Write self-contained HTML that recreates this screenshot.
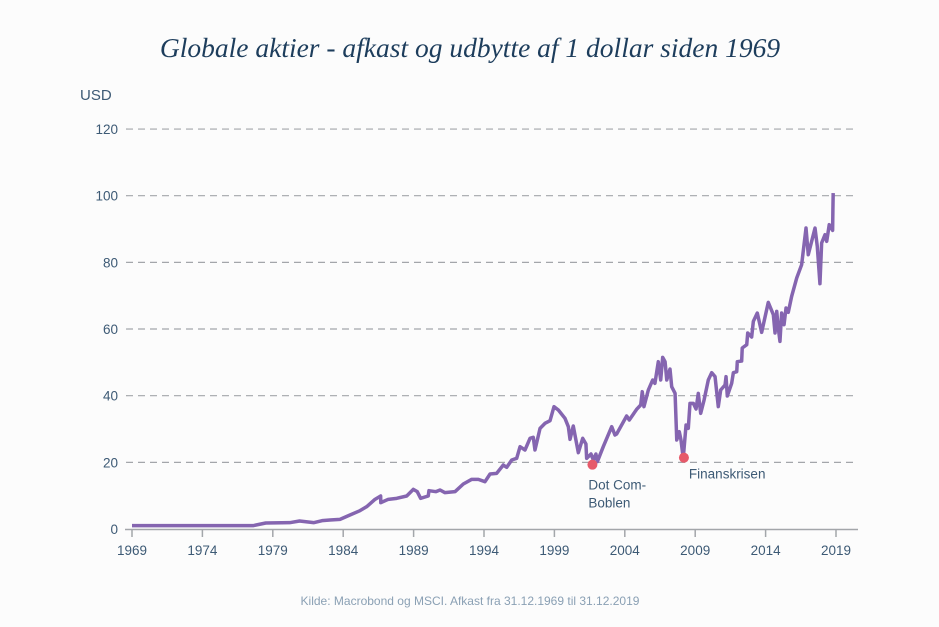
<!DOCTYPE html>
<html><head><meta charset="utf-8"><style>
body{margin:0;background:#fcfcfc;}
svg{display:block;font-family:"Liberation Sans",sans-serif;}
</style></head><body>
<svg id="c" width="939" height="627">
<rect width="939" height="627" fill="#fcfcfc"/>
<text x="470" y="57" text-anchor="middle" font-family="Liberation Serif,serif" font-style="italic" font-size="27.5" fill="#1d3d5c">Globale aktier - afkast og udbytte af 1 dollar siden 1969</text>
<text x="80" y="100" font-size="15" fill="#3d5a75">USD</text>
<text x="470" y="605" text-anchor="middle" font-size="12" fill="#8aa0b4">Kilde: Macrobond og MSCI. Afkast fra 31.12.1969 til 31.12.2019</text>
<g id="grid"></g><g id="xaxis"></g><g id="series"></g><g id="ann"></g>
</svg>
<script>
const years=[1969,1977.6,1978.5,1980.2,1980.9,1981.9,1982.5,1983.06,1983.77,1984.48,1985.19,1985.67,1986.26,1986.66,1986.67,1987.2,1987.8,1988.51,1988.98,1989.26,1989.5,1990.04,1990.09,1990.59,1990.88,1991.23,1991.94,1992.53,1993.13,1993.6,1994.07,1994.43,1994.9,1995.37,1995.61,1995.97,1996.32,1996.56,1996.91,1997.27,1997.5,1997.62,1997.98,1998.33,1998.69,1998.97,1999.28,1999.75,1999.99,2000.11,2000.34,2000.7,2001.01,2001.24,2001.29,2001.6,2001.76,2001.95,2002.05,2002.47,2003.07,2003.3,2003.42,2004.13,2004.32,2004.84,2005.13,2005.24,2005.36,2005.67,2005.98,2006.14,2006.38,2006.55,2006.69,2006.86,2006.98,2007.21,2007.33,2007.57,2007.69,2007.87,2007.99,2008.15,2008.35,2008.51,2008.63,2008.87,2009.06,2009.22,2009.39,2009.63,2009.93,2010.17,2010.41,2010.64,2010.81,2011.12,2011.19,2011.28,2011.59,2011.71,2011.95,2011.99,2012.3,2012.34,2012.66,2012.73,2013.01,2013.13,2013.41,2013.72,2014.19,2014.55,2014.67,2014.79,2014.9,2015.02,2015.14,2015.31,2015.45,2015.61,2015.85,2016.21,2016.56,2016.87,2017.03,2017.51,2017.67,2017.86,2017.98,2018.22,2018.34,2018.52,2018.76,2018.78,2018.8];
const values=[1,1,1.8,1.9,2.4,1.9,2.5,2.7,2.9,4.2,5.5,6.7,8.9,9.9,7.9,8.9,9.2,9.9,11.9,11.2,9.2,9.9,11.5,11.2,11.7,10.9,11.2,13.5,14.9,14.9,14.2,16.5,16.7,19.2,18.5,20.7,21.2,24.7,23.7,27.2,27.5,23.7,30.2,31.7,32.5,36.7,35.7,33.2,30.7,26.9,30.9,22.9,27.2,25.5,21.2,22.5,20.7,22.5,20.2,24.7,30.7,28.2,28.5,33.9,32.7,35.9,37.2,41.2,36.7,41.7,44.7,43.7,50.2,44.7,51.5,50.2,44.7,48,42.7,40.7,26.7,29.2,26.7,21.2,31.2,30.2,37.7,37.7,36,40.7,34.7,38.7,44.7,46.9,45.7,36.7,41.7,43.2,45.7,39.9,43.7,46.9,47.2,50.2,50.4,54.3,55.3,58.8,57.6,62.3,64.8,59,68,64.3,58.8,65.3,60.3,56.3,64.8,61.3,66.3,65,69.8,75.3,79.3,90.3,82.3,90.3,84.8,73.6,85.8,88.3,86.3,91.3,89.6,95.8,100.8];
const yTicks=[0,20,40,60,80,100,120];
const xTicks=[1969,1974,1979,1984,1989,1994,1999,2004,2009,2014,2019];
const annotations=[{label:"Dot Com-",label2:"Boblen",year:2001.7,value:19.3},{label:"Finanskrisen",year:2008.2,value:21.4}];
const NS="http://www.w3.org/2000/svg";
const X=y=>132+(y-1969)*14.08;
const Y=v=>529-v*3.333;
function mk(t,a,p){const e=document.createElementNS(NS,t);for(const k in a)e.setAttribute(k,a[k]);p.appendChild(e);return e;}
const g=document.getElementById('grid');
yTicks.forEach(v=>{
 if(v>0){const l=mk('line',{x1:126,x2:858,y1:Y(v),y2:Y(v),stroke:'#a3a6aa','stroke-width':1.2,'stroke-dasharray':'7,5'},g);
 
 }
 const t=mk('text',{x:118,y:Y(v)+5,'text-anchor':'end','font-size':13.5,fill:'#3d5a75'},g);t.textContent=v;
 
 
});
const xa=document.getElementById('xaxis');
const al=mk('line',{x1:125,x2:858,y1:529.5,y2:529.5,stroke:'#a3a6aa','stroke-width':1.5},xa);


xTicks.forEach(y=>{
 const tk=mk('line',{x1:X(y),x2:X(y),y1:530,y2:537,stroke:'#a3a6aa','stroke-width':1.5},xa);
 
 
 const t=mk('text',{x:X(y),y:555,'text-anchor':'middle','font-size':13.5,fill:'#3d5a75'},xa);t.textContent=y;
 
 
});
const s=document.getElementById('series');
const p=mk('polyline',{points:years.map((y,i)=>X(y)+','+Y(values[i])).join(' '),fill:'none',stroke:'#8565b0','stroke-width':3.5,'stroke-linejoin':'round'},s);


const an=document.getElementById('ann');
annotations.forEach((a,i)=>{
 const c=mk('circle',{cx:X(a.year),cy:Y(a.value),r:5,fill:'#e65a6a'},an);
 
 
 const t=mk('text',{x:X(a.year)-4+(i?9:0),y:Y(a.value)+(i?21:25),'font-size':13.5,fill:'#3d5a75'},an);t.textContent=a.label;
 
 
 if(a.label2){const t2=mk('text',{x:X(a.year)-4,y:Y(a.value)+43,'font-size':13.5,fill:'#3d5a75'},an);t2.textContent=a.label2;
 
 }
});
</script>
</body></html>
